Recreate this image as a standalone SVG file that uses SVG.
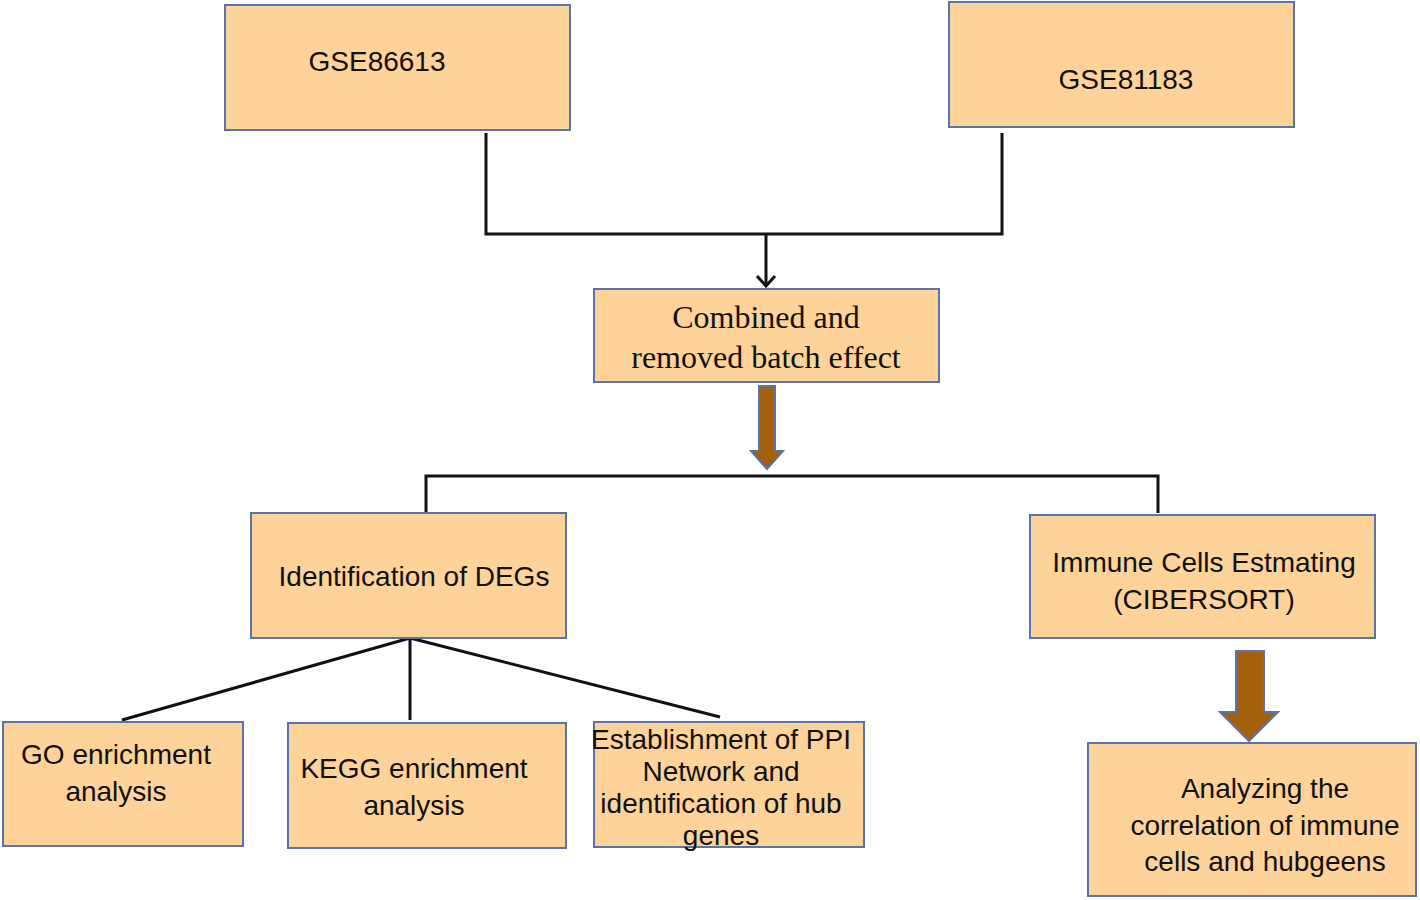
<svg xmlns="http://www.w3.org/2000/svg" width="1420" height="900" viewBox="0 0 1420 900">
<style>
.box{fill:#fdd39a;stroke:#5a74a8;stroke-width:2}
.t{font-family:"Liberation Sans",Arial,sans-serif;font-size:28px;fill:#111;text-anchor:middle}
.s{font-family:"Liberation Serif","Times New Roman",serif;font-size:32px;fill:#111;text-anchor:middle}
.ln{fill:none;stroke:#111;stroke-width:3}
.ba{fill:#a5600e;stroke:#5a74a8;stroke-width:2}
</style>
<rect width="1420" height="900" fill="#fff"/>
<g id="connectors">
<polyline class="ln" points="486,133 486,234 1002,234 1002,133"/>
<line class="ln" x1="766" y1="234" x2="766" y2="286"/>
<polyline class="ln" points="757,276 766,286 775,276"/>
<polygon class="ba" points="759,386 775,386 775,451 783,451 767,469 751,451 759,451"/>
<polyline class="ln" points="426,512 426,476 1158,476 1158,513"/>
<line class="ln" x1="410" y1="638" x2="122" y2="720"/>
<line class="ln" x1="410" y1="638" x2="410" y2="720"/>
<line class="ln" x1="410" y1="638" x2="720" y2="717"/>
<polygon class="ba" points="1236,651 1264,651 1264,712 1278,712 1249,741 1220,712 1236,712"/>
</g>
<g id="n1"><rect class="box" x="225" y="5" width="345" height="125"/><text class="t" x="377" y="71" font-size="32">GSE86613</text></g>
<g id="n2"><rect class="box" x="949" y="2" width="345" height="125"/><text class="t" x="1126" y="89" font-size="32">GSE81183</text></g>
<g id="n3"><rect class="box" x="594" y="289" width="345" height="93"/><text class="s" x="766" y="328">Combined and</text><text class="s" x="766" y="368">removed batch effect</text></g>
<g id="n4"><rect class="box" x="251" y="513" width="315" height="125"/><text class="t" x="414" y="586">Identification of DEGs</text></g>
<g id="n5"><rect class="box" x="1030" y="515" width="345" height="123"/><text class="t" x="1204" y="572">Immune Cells Estmating</text><text class="t" x="1204" y="609">(CIBERSORT)</text></g>
<g id="n6"><rect class="box" x="3" y="722" width="240" height="124"/><text class="t" x="116" y="764">GO enrichment</text><text class="t" x="116" y="801">analysis</text></g>
<g id="n7"><rect class="box" x="288" y="723" width="278" height="125"/><text class="t" x="414" y="778">KEGG enrichment</text><text class="t" x="414" y="815">analysis</text></g>
<g id="n8"><rect class="box" x="594" y="722" width="270" height="125"/><text class="t" x="721" y="749" font-size="24">Establishment of PPI</text><text class="t" x="721" y="781" font-size="24">Network and</text><text class="t" x="721" y="813" font-size="24">identification of hub</text><text class="t" x="721" y="845" font-size="24">genes</text></g>
<g id="n9"><rect class="box" x="1088" y="743" width="328" height="153"/><text class="t" x="1265" y="798">Analyzing the</text><text class="t" x="1265" y="835">correlation of immune</text><text class="t" x="1265" y="871">cells and hubgeens</text></g>
</svg>
